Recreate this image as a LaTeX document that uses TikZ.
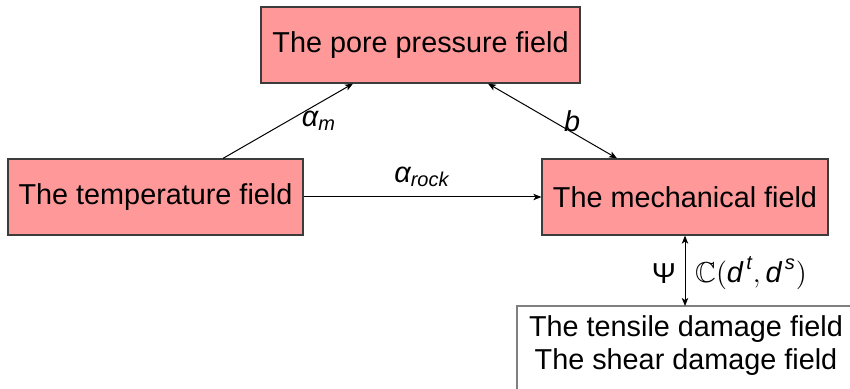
\documentclass[tikz,border=0pt]{standalone}
\usepackage{amsmath,amssymb}
\usepackage{fontspec}
\setmainfont{Liberation Sans}
\usetikzlibrary{arrows.meta}
\definecolor{boxpink}{HTML}{FF9999}
\definecolor{boxedge}{HTML}{3C3C3C}
\definecolor{damageedge}{HTML}{808080}
\tikzset{
  txt/.style={font=\fontsize{14.4}{16.5}\selectfont},
  field/.style={txt, draw=boxedge, fill=boxpink, line width=0.6pt,
    minimum height=38pt, inner sep=0pt},
  damagetext/.style={txt, inner xsep=0pt, inner ysep=4.5pt, align=center, anchor=north},
  damageframe/.style={draw=damageedge, fill=white, line width=0.6pt},
  tip/.tip={Stealth[length=4pt,width=3.2pt,inset=1pt]},
  link/.style={line width=0.5pt, -tip},
  bilink/.style={line width=0.5pt, tip-tip},
  lbl/.style={txt, inner sep=0pt}
}
\begin{document}
\begin{tikzpicture}[x=0.5pt,y=-0.5pt]
\useasboundingbox (0,0) rectangle (850,389);
\clip (0,0) rectangle (850,389);

% damage box frame, running past the lower right corner
\draw[damageframe] (517,306) rectangle (880,420);

% coupled fields
\node[field, minimum width=159.5pt] (pore) at (420.5,45) {The pore pressure field};
\node[field, minimum width=147.5pt] (temp) at (155.5,197) {The temperature field};
\node[field, minimum width=143pt] (mech) at (685,197) {The mechanical field};
\node[damagetext] (dmg) at (686,306) {The tensile damage field\\The shear damage field};

% couplings
\draw[link] ([xshift=33.75pt]temp.north) -- ([xshift=-33.75pt]pore.south);
\draw[bilink] ([xshift=33.75pt]pore.south) -- ([xshift=-34pt]mech.north);
\draw[link] (temp.east) -- (mech.west);
\draw[bilink] (mech.south) -- (mech.south |- dmg.north);

% coupling coefficients
\node[lbl] (am) at (319,121) {$\textit{α}_{\textit{m}}$};
\node[lbl] (bb) at (572,121) {$\textit{b}$};
\node[lbl] (ar) at (422,177) {$\textit{α}_{\textit{rock}}$};
\node[lbl] (psi) at (664,274) {Ψ};
\node[lbl] (cc) at (751,273) {$\mathbb{C}(\textit{d}^{\,\textit{t}},\textit{d}^{\,\textit{s}})$};
\end{tikzpicture}
\end{document}
